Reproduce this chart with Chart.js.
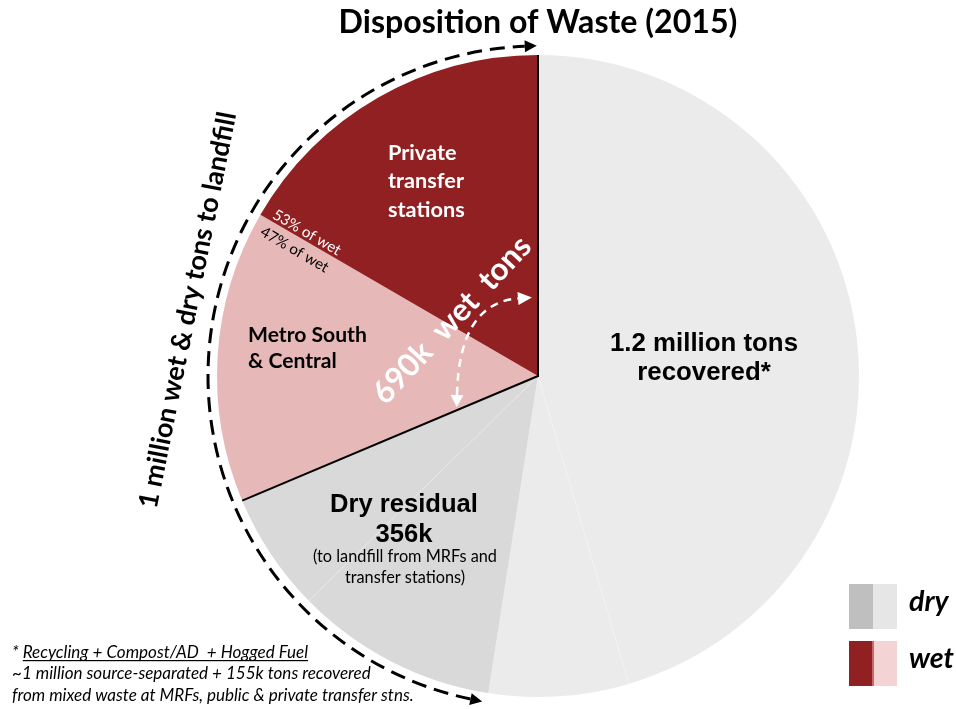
<!DOCTYPE html>
<html>
<head>
<meta charset="utf-8">
<script src="https://cdn.jsdelivr.net/npm/chart.js@4/dist/chart.umd.min.js"></script>
<style>
html,body{margin:0;padding:0;background:#fff;}
canvas{display:block;}
</style>
</head>
<body>
<canvas id="c" width="956" height="709"></canvas>
<script>
// ---------------- data ----------------
const categories = [
  'Recovered: source-separated',
  'Recovered: from mixed waste',
  'Dry residual: MRFs',
  'Dry residual: transfer stations',
  'Metro South & Central',
  'Private transfer stations'
];
const tonsK = [1000, 155, 224, 132, 324, 366];
const sliceColors = ['#ebebeb', '#ebebeb', '#d9d9d9', '#d9d9d9', '#e6b9b8', '#912023'];

const titleText = 'Disposition of Waste (2015)';
const privateLabel = ['Private', 'transfer', 'stations'];
const metroLabel = ['Metro South', '& Central'];
const shareLabels = ['53% of wet', '47% of wet'];
const wetLabel = '690k  wet  tons';
const landfillLabel = '1 million wet & dry tons to landfill';
const recoveredLabel = ['1.2 million tons', 'recovered*'];
const dryLabel = ['Dry residual', '356k'];
const dryNote = ['(to landfill from MRFs and', 'transfer stations)'];
const footStar = '* ';
const footLines = [
  'Recycling + Compost/AD  + Hogged Fuel',
  '~1 million source-separated + 155k tons recovered',
  'from mixed waste at MRFs, public & private transfer stns.'
];
const legendLabels = ['dry', 'wet'];
const legendColors = [['#bfbfbf', '#e6e6e6'], ['#912023', '#f3d3d3']];

// ---------------- helpers ----------------
const mctx = document.createElement('canvas').getContext('2d');
function fitSize(text, width, weight, style, family) {
  mctx.font = `${style} ${weight} 100px ${family}`;
  return 100 * width / mctx.measureText(text).width;
}
function fnt(size, weight, style, family) {
  return `${style} ${weight} ${size.toFixed(2)}px ${family}`;
}
const LATO = 'Lato, "Open Sans", sans-serif';
const ARIAL = '"Liberation Sans", Arial, sans-serif';

const titleSize = fitSize(titleText, 399, 'bold', 'normal', 'Lato');
const sizes = {
  priv: fitSize(privateLabel[1], 76, 'bold', 'normal', 'Lato'),
  metro: fitSize(metroLabel[0], 119, 'bold', 'normal', 'Lato'),
  share: fitSize(shareLabels[0], 76, 'normal', 'normal', 'Lato'),
  wet: fitSize(wetLabel, 216, 'bold', 'normal', 'Lato'),
  landfill: fitSize(landfillLabel, 404, 'bold', 'normal', 'Lato'),
  rec: fitSize(recoveredLabel[0], 188, 'bold', 'normal', 'Liberation Sans'),
  dry: fitSize(dryLabel[0], 148, 'bold', 'normal', 'Liberation Sans'),
  note: fitSize(dryNote[0], 184, 'normal', 'normal', 'Lato'),
  foot: fitSize(footLines[2], 402, 'normal', 'italic', 'Lato'),
  legend: fitSize(legendLabels[1], 45, 'bold', 'italic', 'Lato')
};

const titleMid = 23;
const pieTop = 55;
const tpTop = titleMid - 0.6 * titleSize;
const tpBottom = pieTop - tpTop - 1.2 * titleSize;

// ---------------- annotation plugin ----------------
const annotationPlugin = {
  id: 'annot',
  afterDraw(chart) {
    const ctx = chart.ctx;
    const arcs = chart.getDatasetMeta(0).data;
    const cx = arcs[0].x, cy = arcs[0].y, R = arcs[0].outerRadius;

    function arrow(x, y, dir, len, wid, color) {
      const tx = x + len * Math.cos(dir), ty = y + len * Math.sin(dir);
      const px = -Math.sin(dir) * wid / 2, py = Math.cos(dir) * wid / 2;
      ctx.beginPath();
      ctx.moveTo(tx, ty);
      ctx.lineTo(x + px, y + py);
      ctx.lineTo(x - px, y - py);
      ctx.closePath();
      ctx.fillStyle = color;
      ctx.fill();
    }
    function text(str, x, y, font, color, align, baseline, rot) {
      ctx.save();
      ctx.translate(x, y);
      if (rot) ctx.rotate(rot);
      ctx.font = font;
      ctx.fillStyle = color;
      ctx.textAlign = align || 'left';
      ctx.textBaseline = baseline || 'alphabetic';
      ctx.fillText(str, 0, 0);
      ctx.restore();
    }

    ctx.save();
    // faint seams between same-colour sub-slices
    [arcs[1].startAngle, arcs[3].startAngle].forEach((a, i) => {
      ctx.beginPath();
      ctx.moveTo(cx, cy);
      ctx.lineTo(cx + R * Math.cos(a), cy + R * Math.sin(a));
      ctx.strokeStyle = i === 0 ? 'rgba(255,255,255,0.25)' : 'rgba(255,255,255,0.3)';
      ctx.lineWidth = 0.8;
      ctx.stroke();
    });
    // black edges of the wet wedge
    const aTop = arcs[5].endAngle, aDry = arcs[4].startAngle;
    ctx.beginPath();
    ctx.moveTo(cx + R * Math.cos(aTop), cy + R * Math.sin(aTop));
    ctx.lineTo(cx, cy);
    ctx.lineTo(cx + R * Math.cos(aDry), cy + R * Math.sin(aDry));
    ctx.strokeStyle = '#000';
    ctx.lineWidth = 2;
    ctx.lineJoin = 'miter';
    ctx.stroke();

    // dashed arc around landfill slices
    const rr = R + 9;
    const a0 = arcs[2].startAngle + 2.9 * Math.PI / 180;
    const a1 = arcs[5].endAngle - 2.3 * Math.PI / 180;
    ctx.beginPath();
    ctx.arc(cx, cy, rr, a0, a1, false);
    ctx.setLineDash([15, 8]);
    ctx.lineWidth = 3;
    ctx.strokeStyle = '#000';
    ctx.stroke();
    ctx.setLineDash([]);
    arrow(cx + rr * Math.cos(a1), cy + rr * Math.sin(a1), a1 + Math.PI / 2, 12, 12, '#000');
    arrow(cx + rr * Math.cos(a0), cy + rr * Math.sin(a0), a0 - Math.PI / 2, 12, 12, '#000');

    // white dashed curved arrow across the wet wedge
    const sx = cx - 81, sy = cy + 19, qx = cx - 79, qy = cy - 73, ex = cx - 20, ey = cy - 77.5;
    ctx.beginPath();
    ctx.moveTo(sx, sy);
    ctx.quadraticCurveTo(qx, qy, ex, ey);
    ctx.setLineDash([8, 6]);
    ctx.lineWidth = 2.5;
    ctx.strokeStyle = '#fff';
    ctx.stroke();
    ctx.setLineDash([]);
    arrow(sx, sy, Math.atan2(sy - qy, sx - qx), 12, 13, '#fff');
    arrow(ex, ey, Math.atan2(ey - qy, ex - qx), 14, 13, '#fff');
    ctx.restore();

    // slice labels
    const fp = fnt(sizes.priv, 'bold', 'normal', LATO);
    text(privateLabel[0], cx - 150, cy - 216, fp, '#fff');
    text(privateLabel[1], cx - 150, cy - 188, fp, '#fff');
    text(privateLabel[2], cx - 150, cy - 159, fp, '#fff');

    const fm = fnt(sizes.metro, 'bold', 'normal', LATO);
    text(metroLabel[0], cx - 290, cy - 34, fm, '#000');
    text(metroLabel[1], cx - 290, cy - 8, fm, '#000');

    // share labels along the private / metro boundary
    const th = arcs[5].startAngle - Math.PI;
    const fs = fnt(sizes.share, 'normal', 'normal', LATO);
    ctx.save();
    ctx.translate(cx, cy);
    ctx.rotate(th);
    ctx.font = fs;
    ctx.textAlign = 'center';
    ctx.textBaseline = 'middle';
    ctx.fillStyle = '#fff';
    ctx.fillText(shareLabels[0], -272, -8);
    ctx.fillStyle = '#000';
    ctx.fillText(shareLabels[1], -274, 13);
    ctx.restore();

    text(wetLabel, cx - 86, cy - 56, fnt(sizes.wet, 'bold', 'normal', LATO), '#fff', 'center', 'middle', -47 * Math.PI / 180);
    text(landfillLabel, cx - 350, cy - 66, fnt(sizes.landfill, 'bold', 'normal', LATO), '#000', 'center', 'middle', -78.6 * Math.PI / 180);

    const fr = fnt(sizes.rec, 'bold', 'normal', ARIAL);
    text(recoveredLabel[0], cx + 166, cy - 25, fr, '#000', 'center');
    text(recoveredLabel[1], cx + 166, cy + 4, fr, '#000', 'center');

    const fd = fnt(sizes.dry, 'bold', 'normal', ARIAL);
    text(dryLabel[0], cx - 134, cy + 136, fd, '#000', 'center');
    text(dryLabel[1], cx - 134, cy + 166, fd, '#000', 'center');
    const fn = fnt(sizes.note, 'normal', 'normal', LATO);
    text(dryNote[0], cx - 133, cy + 186, fn, '#000', 'center');
    text(dryNote[1], cx - 133, cy + 207, fn, '#000', 'center');

    // footnote
    const ff = fnt(sizes.foot, 'normal', 'italic', LATO);
    ctx.save();
    ctx.font = ff;
    ctx.fillStyle = '#000';
    ctx.textBaseline = 'alphabetic';
    ctx.textAlign = 'left';
    const fx = 12;
    ctx.fillText(footStar, fx, 658);
    const ux = fx + ctx.measureText(footStar).width;
    ctx.fillText(footLines[0], ux, 658);
    const uw = ctx.measureText(footLines[0]).width;
    ctx.fillRect(ux, 660, uw, 1.2);
    ctx.fillText(footLines[1], fx, 679);
    ctx.fillText(footLines[2], fx, 701);
    ctx.restore();

    // legend
    const lf = fnt(sizes.legend, 'bold', 'italic', LATO);
    const ly = [584, 641];
    legendLabels.forEach((lab, i) => {
      ctx.fillStyle = legendColors[i][0];
      ctx.fillRect(849, ly[i], 24, 45);
      ctx.fillStyle = legendColors[i][1];
      ctx.fillRect(873, ly[i], 24, 45);
      if (i === 1) {
        ctx.fillStyle = '#c86a6a';
        ctx.fillRect(872, ly[i], 2, 45);
      }
      text(lab, 909, ly[i] + 27, lf, '#000', 'left');
    });
  }
};

// ---------------- chart ----------------
new Chart(document.getElementById('c').getContext('2d'), {
  type: 'pie',
  data: {
    labels: categories,
    datasets: [{
      data: tonsK,
      backgroundColor: sliceColors,
      borderColor: sliceColors,
      borderWidth: 0,
      hoverOffset: 0
    }]
  },
  options: {
    responsive: false,
    animation: false,
    devicePixelRatio: 1,
    events: [],
    layout: { padding: { top: 0, left: 217, right: 97, bottom: 12 } },
    plugins: {
      legend: { display: false },
      tooltip: { enabled: false },
      title: {
        display: true,
        text: titleText,
        color: '#000',
        font: { family: 'Lato', weight: 'bold', size: titleSize, lineHeight: 1.2 },
        padding: { top: tpTop, bottom: tpBottom }
      }
    }
  },
  plugins: [annotationPlugin]
});
</script>
</body>
</html>
